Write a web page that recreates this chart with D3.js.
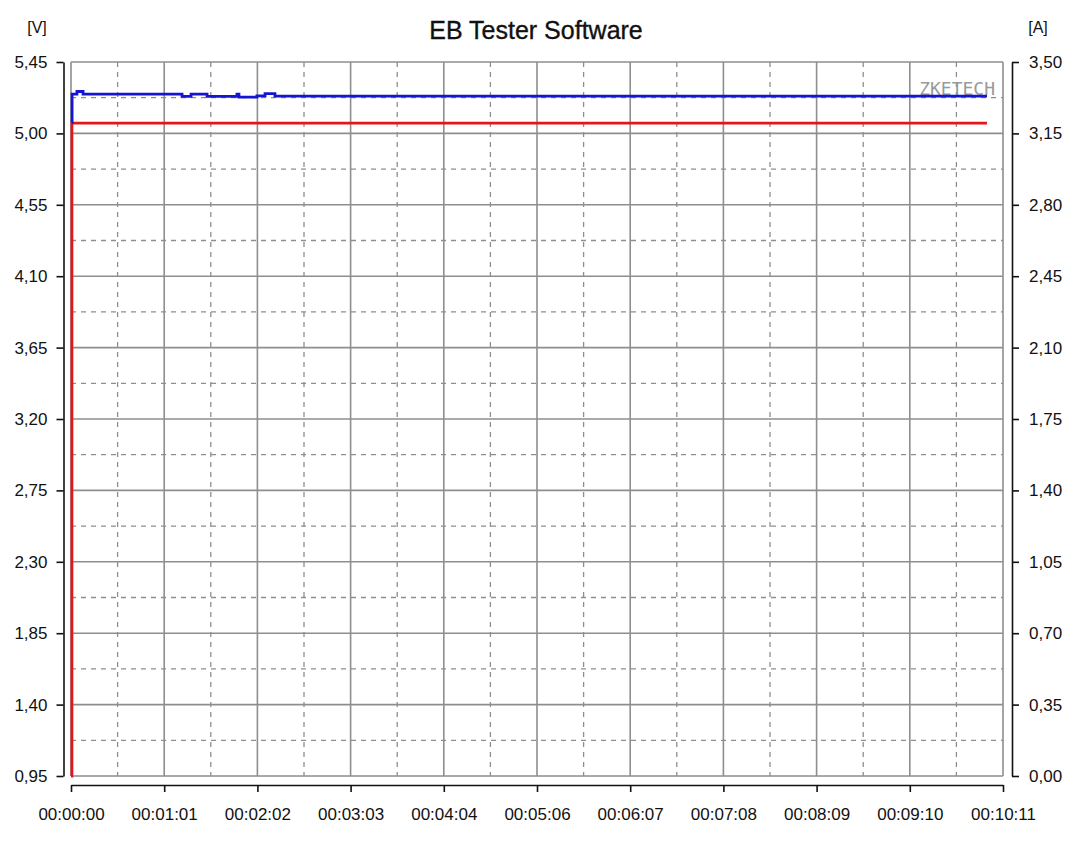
<!DOCTYPE html>
<html>
<head>
<meta charset="utf-8">
<script src="https://cdn.jsdelivr.net/npm/d3@7"></script>
<style>
	body { margin: 0; background: #fff; }
	text { font-family: "Liberation Sans", Arial, sans-serif; fill: #111; }
</style>
</head>
<body>
<div id="plot"></div>
<script>
// voltage trace (blue), seconds / volts
var blueTime = [0.6, 0.7, 3.9, 7.9, 72.8, 78.7, 89.2, 108.8, 110.1, 121.9, 127.2, 133.7, 600.5];
var blueVolt = [5.07, 5.248, 5.264, 5.248, 5.233, 5.248, 5.233, 5.248, 5.229, 5.236, 5.251, 5.235, 5.235];

// current trace (red), seconds / amps
var redTime = [0, 0.6, 600.5];
var redAmp = [0, 3.20, 3.20];

var voltTicks = [0.95, 1.40, 1.85, 2.30, 2.75, 3.20, 3.65, 4.10, 4.55, 5.00, 5.45];
var ampTicks = [0.00, 0.35, 0.70, 1.05, 1.40, 1.75, 2.10, 2.45, 2.80, 3.15, 3.50];
var timeLabels = ["00:00:00", "00:01:01", "00:02:02", "00:03:03", "00:04:04", "00:05:06",
	"00:06:07", "00:07:08", "00:08:09", "00:09:10", "00:10:11"];
var timeMax = 611;

var W = 1080, H = 847;
var plotLeft = 71, plotRight = 1003, plotTop = 62, plotBottom = 776;

var svg = d3.select("#plot").append("svg")
	.attr("width", W)
	.attr("height", H);

var x = d3.scaleLinear().domain([0, timeMax]).range([plotLeft, plotRight]);
var yV = d3.scaleLinear().domain([0.95, 5.45]).range([plotBottom, plotTop]);
var yA = d3.scaleLinear().domain([0, 3.5]).range([plotBottom, plotTop]);

var timeTicks = timeLabels.map(function(d, i) { return i * timeMax / (timeLabels.length - 1); });
var comma = function(d) { return d.toFixed(2).replace(".", ","); };

// grid: dashed halves first, solid majors on top
var grid = svg.append("g");
var halfX = timeTicks.slice(1).map(function(d, i) { return (d + timeTicks[i]) / 2; });
var halfY = voltTicks.slice(1).map(function(d, i) { return (d + voltTicks[i]) / 2; });

grid.selectAll(".hx").data(halfX).enter().append("line")
	.attr("x1", function(d) { return x(d); }).attr("x2", function(d) { return x(d); })
	.attr("y1", plotTop).attr("y2", plotBottom)
	.attr("stroke", "#8e8e8e").attr("stroke-width", 1.3).attr("stroke-dasharray", "5,5");
grid.selectAll(".hy").data(halfY).enter().append("line")
	.attr("x1", plotLeft).attr("x2", plotRight)
	.attr("y1", function(d) { return yV(d); }).attr("y2", function(d) { return yV(d); })
	.attr("stroke", "#8e8e8e").attr("stroke-width", 1.3).attr("stroke-dasharray", "5,5");
grid.selectAll(".mx").data(timeTicks).enter().append("line")
	.attr("x1", function(d) { return x(d); }).attr("x2", function(d) { return x(d); })
	.attr("y1", plotTop).attr("y2", plotBottom)
	.attr("stroke", "#8e8e8e").attr("stroke-width", 1.6);
grid.selectAll(".my").data(voltTicks).enter().append("line")
	.attr("x1", plotLeft).attr("x2", plotRight)
	.attr("y1", function(d) { return yV(d); }).attr("y2", function(d) { return yV(d); })
	.attr("stroke", "#8e8e8e").attr("stroke-width", 1.6);

// watermark
svg.append("text")
	.attr("x", 995).attr("y", 95)
	.attr("text-anchor", "end")
	.style("font-family", "'DejaVu Sans Mono', monospace")
	.style("font-size", "18px")
	.style("fill", "#9a9a9a")
	.text("ZKETECH");

// traces
var redLine = d3.line()
	.x(function(d, i) { return x(redTime[i]); })
	.y(function(d) { return yA(d); })
	.curve(d3.curveStepAfter);
var blueLine = d3.line()
	.x(function(d, i) { return x(blueTime[i]); })
	.y(function(d) { return yV(d); })
	.curve(d3.curveStepAfter);

svg.append("path")
	.attr("d", redLine(redAmp))
	.attr("fill", "none").attr("stroke", "#e3161c").attr("stroke-width", 2.8);
svg.append("path")
	.attr("d", blueLine(blueVolt))
	.attr("fill", "none").attr("stroke", "#1414d2").attr("stroke-width", 2.8);

// axes
var ax = svg.append("g")
	.attr("transform", "translate(63.5,0)")
	.call(d3.axisLeft(yV).tickValues(voltTicks).tickFormat(comma).tickSize(7).tickPadding(9).tickSizeOuter(0));
var ar = svg.append("g")
	.attr("transform", "translate(1012,0)")
	.call(d3.axisRight(yA).tickValues(ampTicks).tickFormat(comma).tickSize(7).tickPadding(10).tickSizeOuter(0));
var ab = svg.append("g")
	.attr("transform", "translate(0,785)")
	.call(d3.axisBottom(x).tickValues(timeTicks).tickFormat(function(d, i) { return timeLabels[i]; })
		.tickSize(7).tickPadding(16).tickSizeOuter(0));

[ax, ar, ab].forEach(function(g) {
	g.selectAll("path, line").attr("stroke", "#111").attr("stroke-width", 1.6);
	g.selectAll("text").style("font-size", "17px").style("fill", "#111")
		.style("font-family", "'Liberation Sans', Arial, sans-serif");
});

// titles
svg.append("text")
	.attr("x", 536).attr("y", 39)
	.attr("text-anchor", "middle")
	.style("font-size", "25px")
	.style("stroke", "#111").style("stroke-width", 0.35)
	.text("EB Tester Software");
svg.append("text")
	.attr("x", 37).attr("y", 33)
	.attr("text-anchor", "middle")
	.style("font-size", "16px")
	.text("[V]");
svg.append("text")
	.attr("x", 1038).attr("y", 33)
	.attr("text-anchor", "middle")
	.style("font-size", "16px")
	.text("[A]");
</script>
</body>
</html>
